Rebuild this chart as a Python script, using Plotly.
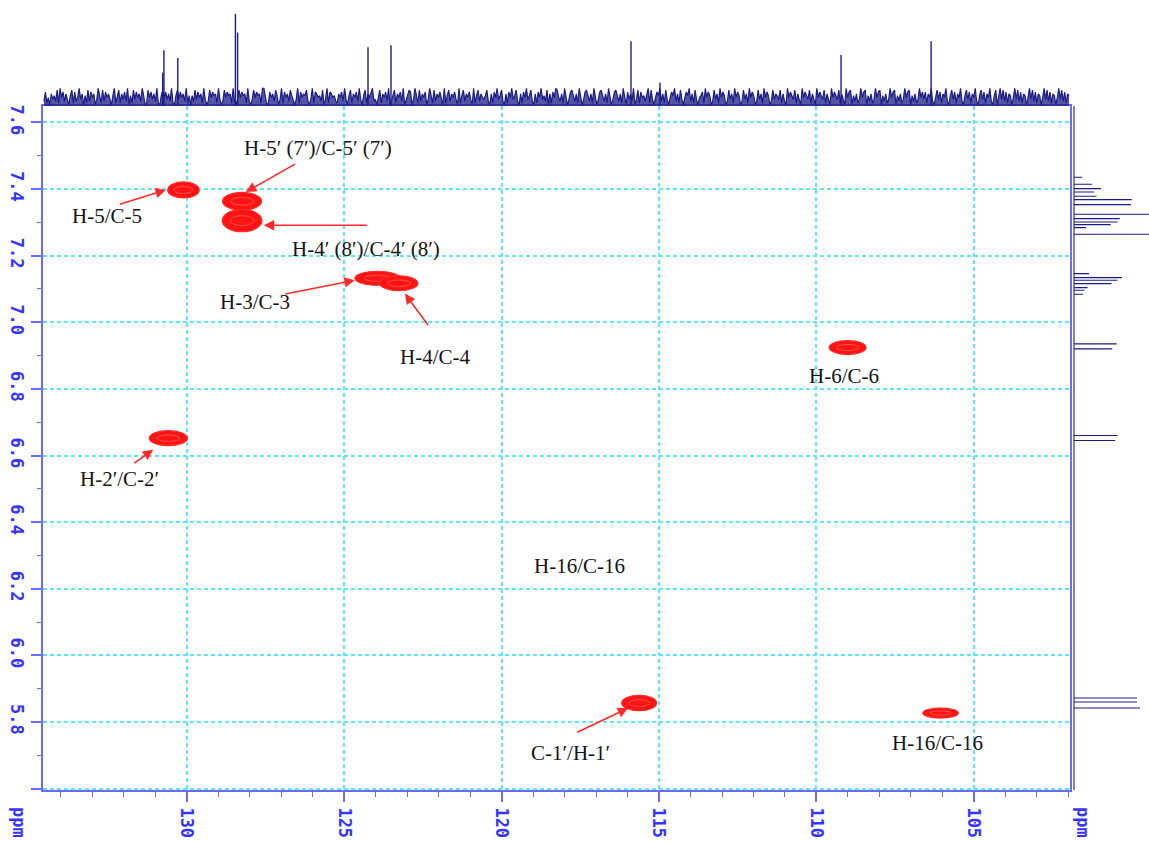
import numpy as np
import plotly.graph_objects as go

# ---------------- data ----------------
# 13C projection (top): stick peaks (ppm, relative height 0-100)
c13_peak_ppm = [130.76, 130.72, 130.28, 128.45, 128.38, 124.24, 123.51, 115.89, 114.97, 109.22, 106.36]
c13_peak_int = [34, 57, 49, 94, 75, 60, 62, 66, 24, 52, 66]

# baseline noise of the 13C projection, hand-read levels 0-9 from left (high ppm) to right
c13_noise = ("27140635281947263058172493605182746039518274630591"
             "48163729051837462950184736291058473629105837462915"
             "05283746193028475619302847561920384756192038475619"
             "93017462850391746285203917465820391764528039176452"
             "16472930581647293058164792305816472903581647290358"
             "70395182647039518264730915826473091582647309158264"
             "35820617493582061749358206174935820617493528061749"
             "84261950378426195037842619503784261950378426195073"
             "62903817452691830475926183047592618304759261830457"
             "19475028361947502836194750283619475028361947502836"
             "53816209475381620947538162094753816209475381620947"
             "80526139478052613947805261394780526139478052613947"
             "37164920583716492058371649205837164920583716492058"
             "04938271650493827165049382716504938271650493827165")

# 1H projection (right): stick peaks (ppm, relative height)
h1_peak_ppm = [7.435, 7.414, 7.401, 7.391, 7.378, 7.368, 7.353, 7.324, 7.311, 7.301, 7.293, 7.284, 7.264,
               7.146, 7.134, 7.126, 7.116, 7.104, 7.096, 7.084, 6.935, 6.920, 6.660, 6.645,
               5.872, 5.860, 5.842]
h1_peak_int = [11, 24, 36, 27, 30, 77, 76, 130, 61, 58, 49, 16, 130,
               20, 64, 58, 50, 18, 14, 12, 57, 51, 58, 55,
               84, 84, 88]

# HSQC cross peaks: 13C centre, 1H centre, 13C width, 1H width (ppm)
xp_c13 = [130.10, 128.24, 128.24, 123.94, 123.26, 109.01, 130.58, 115.63, 106.06]
xp_h1 = [7.397, 7.363, 7.305, 7.132, 7.117, 6.924, 6.652, 5.857, 5.827]
xp_wc = [1.00, 1.24, 1.26, 1.43, 1.21, 1.17, 1.21, 1.11, 1.13]
xp_wh = [0.048, 0.053, 0.067, 0.042, 0.045, 0.042, 0.045, 0.046, 0.030]

# labels
lab_text = ["H-5/C-5", "H-5\u2032 (7\u2032)/C-5\u2032 (7\u2032)", "H-4\u2032 (8\u2032)/C-4\u2032 (8\u2032)",
            "H-3/C-3", "H-4/C-4", "H-6/C-6", "H-2\u2032/C-2\u2032", "H-16/C-16",
            "C-1\u2032/H-1\u2032", "H-16/C-16"]
lab_c13 = [132.54, 125.82, 124.31, 127.84, 122.11, 109.13, 132.12, 117.51, 117.80, 106.17]
lab_h1 = [7.318, 7.522, 7.221, 7.060, 6.897, 6.840, 6.529, 6.268, 5.707, 5.737]

# arrows: tail (c13, h1) -> head (c13, h1)
arr_tail_c13 = [132.17, 126.51, 124.23, 126.91, 122.30, 131.71, 117.64]
arr_tail_h1 = [7.353, 7.477, 7.291, 7.084, 6.987, 6.574, 5.767]
arr_head_c13 = [130.66, 128.12, 127.55, 124.66, 123.07, 131.06, 115.98]
arr_head_h1 = [7.397, 7.391, 7.291, 7.126, 7.086, 6.617, 5.842]

# axes
x_range = [134.56, 101.95]
y_range = [5.596, 7.649]
x_ticks = [105, 110, 115, 120, 125, 130]
x_minor = [102, 103, 104, 106, 107, 108, 109, 111, 112, 113, 114, 116, 117, 118, 119,
           121, 122, 123, 124, 126, 127, 128, 129, 131, 132, 133, 134]
y_ticks = [5.6, 5.8, 6.0, 6.2, 6.4, 6.6, 6.8, 7.0, 7.2, 7.4, 7.6]
y_ticktext = ["", "5.8", "6.0", "6.2", "6.4", "6.6", "6.8", "7.0", "7.2", "7.4", "7.6"]
y_minor = [5.7, 5.9, 6.1, 6.3, 6.5, 6.7, 6.9, 7.1, 7.3, 7.5]

# ---------------- styles ----------------
W, H = 1149, 841
BLUE = "#3535ff"
AXBLUE = "#6b6bff"
GRID = "#5ce6f6"
NAVY = "#1c1c86"
RED = "#ff1414"
SERIF = "Liberation Serif, Times New Roman, serif"
MONO = "DejaVu Sans Mono, monospace"

xdom = [43 / W, 1070 / W]
ydom = [1 - 790 / H, 1 - 106 / H]

fig = go.Figure()

# top 13C projection: noise band
noise_x = np.linspace(x_range[0] - 0.03, x_range[1] + 0.03, len(c13_noise))
noise_y = [1.0 + int(c) * 1.9 for c in c13_noise]
fig.add_trace(go.Scatter(x=noise_x, y=noise_y, mode="lines", line=dict(color=NAVY, width=1.2),
                         fill="tozeroy", fillcolor="rgba(28,28,134,0.75)",
                         xaxis="x2", yaxis="y2", hoverinfo="skip"))
# top 13C projection: peaks
px, py = [], []
for p, h in zip(c13_peak_ppm, c13_peak_int):
    px += [p, p, None]
    py += [0, h, None]
fig.add_trace(go.Scatter(x=px, y=py, mode="lines", line=dict(color=NAVY, width=1.4),
                         xaxis="x2", yaxis="y2", hoverinfo="skip"))

# right 1H projection (continuous baseline with sticks)
hx, hy = [0], [y_range[1]]
for p, h in zip(h1_peak_ppm, h1_peak_int):
    hx += [0, h, 0]
    hy += [p, p, p]
hx += [0]
hy += [y_range[0]]
fig.add_trace(go.Scatter(x=hx, y=hy, mode="lines", line=dict(color=NAVY, width=1.1),
                         xaxis="x3", yaxis="y3", hoverinfo="skip"))

# invisible trace to anchor the main axes
fig.add_trace(go.Scatter(x=xp_c13, y=xp_h1, mode="markers", marker=dict(size=1, opacity=0),
                         xaxis="x", yaxis="y", hoverinfo="skip"))

shapes = []
for c, h, wc, wh in zip(xp_c13, xp_h1, xp_wc, xp_wh):
    shapes.append(dict(type="circle", xref="x", yref="y", x0=c - wc / 2, x1=c + wc / 2,
                       y0=h - wh / 2, y1=h + wh / 2, fillcolor=RED, line=dict(color="#ff2a2a", width=1.2),
                       layer="above"))
    shapes.append(dict(type="circle", xref="x", yref="y", x0=c - wc * 0.30, x1=c + wc * 0.30,
                       y0=h - wh * 0.22, y1=h + wh * 0.22, fillcolor="rgba(0,0,0,0)",
                       line=dict(color="#ff5a5a", width=0.8), layer="above"))

annotations = []
for t, c, h in zip(lab_text, lab_c13, lab_h1):
    annotations.append(dict(x=c, y=h, xref="x", yref="y", text=t, showarrow=False,
                            font=dict(family=SERIF, size=21, color="#141414")))
for tc, th, hc, hh in zip(arr_tail_c13, arr_tail_h1, arr_head_c13, arr_head_h1):
    annotations.append(dict(x=hc, y=hh, ax=tc, ay=th, xref="x", yref="y", axref="x", ayref="y",
                            text="", showarrow=True, arrowhead=2, arrowsize=1.3, arrowwidth=1.6,
                            arrowcolor="#ff2a2a"))
for xx in [19 / W, 1083 / W]:
    annotations.append(dict(x=xx, y=1 - 822 / H, xref="paper", yref="paper", text="ppm",
                            showarrow=False, textangle=90, xanchor="center", yanchor="middle",
                            font=dict(family=MONO, size=17, color=BLUE, weight="bold")))

fig.update_layout(
    width=W, height=H, margin=dict(l=0, r=0, t=0, b=0, autoexpand=False),
    paper_bgcolor="white", plot_bgcolor="white", showlegend=False,
    xaxis=dict(domain=xdom, range=x_range, anchor="y", tickmode="array", tickvals=x_ticks,
               ticks="outside", ticklen=10, tickwidth=1.5, tickcolor=AXBLUE, tickangle=90,
               ticklabelstandoff=2, automargin=False,
               tickfont=dict(family=MONO, size=17, color=BLUE, weight="bold"),
               showline=True, linecolor=AXBLUE, linewidth=2, mirror=True,
               showgrid=True, gridcolor=GRID, griddash="4px,3px", gridwidth=1.5, zeroline=False,
               minor=dict(tickmode="array", tickvals=x_minor, ticks="outside", ticklen=5,
                          tickcolor=AXBLUE, tickwidth=1.2, showgrid=False)),
    yaxis=dict(domain=ydom, range=y_range, anchor="x", tickmode="array", tickvals=y_ticks,
               ticktext=y_ticktext, automargin=False,
               ticks="outside", ticklen=10, tickwidth=1.5, tickcolor=AXBLUE, tickangle=90,
               tickfont=dict(family=MONO, size=17, color=BLUE, weight="bold"),
               showline=True, linecolor=AXBLUE, linewidth=2, mirror=True,
               showgrid=True, gridcolor=GRID, griddash="4px,3px", gridwidth=1.5, zeroline=False,
               minor=dict(tickmode="array", tickvals=y_minor, ticks="outside", ticklen=4,
                          tickcolor=AXBLUE, tickwidth=1.2, showgrid=False)),
    xaxis2=dict(domain=xdom, range=x_range, anchor="y2", visible=False),
    yaxis2=dict(domain=[1 - 106 / H, 1 - 8 / H], range=[0, 100], anchor="x2", visible=False),
    xaxis3=dict(domain=[1071 / W, 1.0], range=[-4, 100], anchor="y3", visible=False),
    yaxis3=dict(domain=ydom, range=y_range, anchor="x3", visible=False),
    shapes=shapes, annotations=annotations,
)

fig.write_html("out.html")
